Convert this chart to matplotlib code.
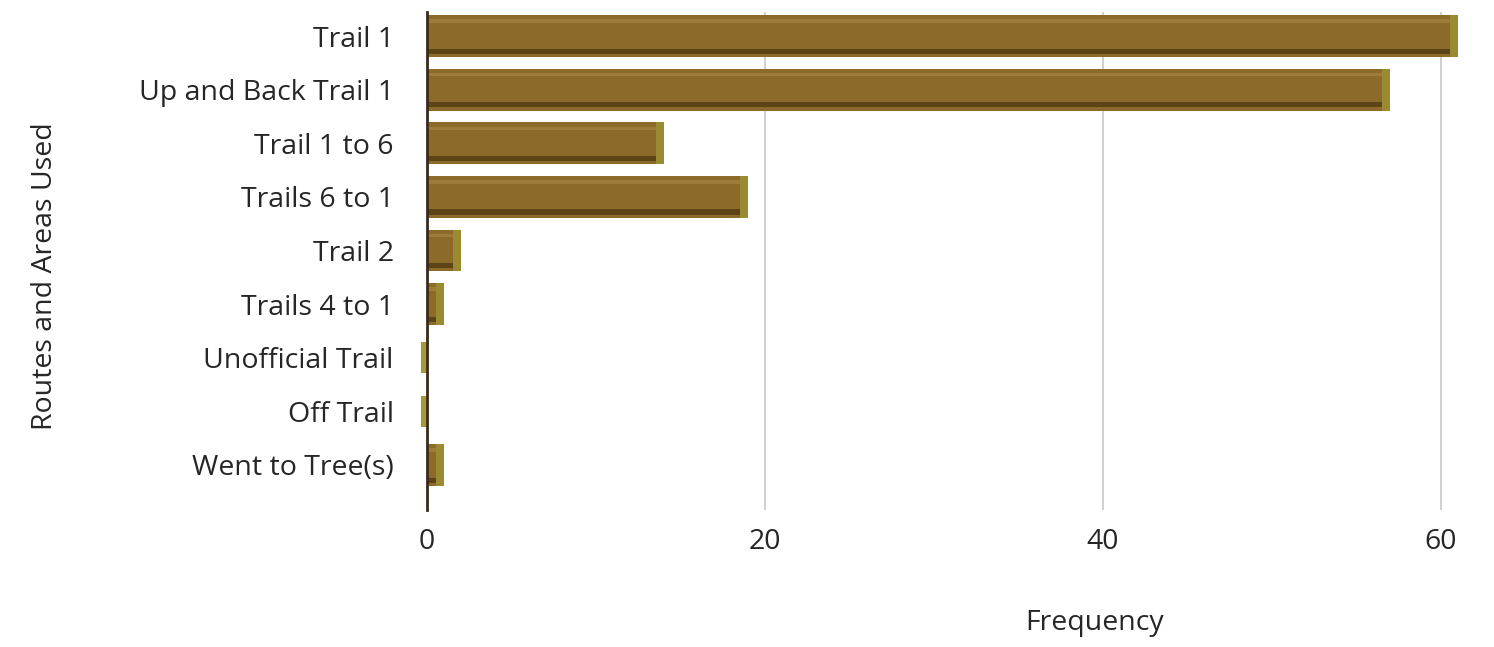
import matplotlib
matplotlib.use("Agg")
import matplotlib.pyplot as plt
import numpy as np

categories = ["Trail 1", "Up and Back Trail 1", "Trail 1 to 6", "Trails 6 to 1",
              "Trail 2", "Trails 4 to 1", "Unofficial Trail", "Off Trail", "Went to Tree(s)"]
frequency = [61, 57, 14, 19, 2, 1, 0, 0, 1]
x_ticks = [0, 20, 40, 60]

plt.rcParams['font.family'] = ['Open Sans', 'DejaVu Sans']

fig = plt.figure(figsize=(14.94, 6.47), dpi=100)
ax = fig.add_axes([427/1494, 1 - 510/647, (1466-427)/1494, (510-12)/647])

y = np.arange(len(categories))
vals = np.array(frequency, dtype=float)
h = 0.78

# main face
ax.barh(y, vals, height=h, color='#8C6A2A', zorder=3)
# darker lower strip (3D shading)
ax.barh(y + h*0.36, vals, height=h*0.12, color='#5C4416', zorder=4)
# lighter top strip
ax.barh(y - h*0.36, vals, height=h*0.08, color='#9C7C38', zorder=4)
# end caps
cap = np.where(vals > 0, 0.45, 0.0)
ax.barh(y, cap, left=vals - cap, height=h, color='#9A8A32', zorder=5)
# zero-valued slivers (drawn just left of the axis)
zero_mask = vals == 0
ax.barh(y[zero_mask], [0.35]*int(zero_mask.sum()), left=-0.35, height=h*0.75,
        color='#A89838', zorder=5, clip_on=False)

ax.set_xlim(0, 61.5)
ax.set_ylim(len(categories) - 1 + 0.84, -0.45)
ax.set_xticks(x_ticks)
ax.set_xticklabels([str(t) for t in x_ticks])
ax.set_yticks(y)
ax.set_yticklabels(categories)

ax.xaxis.grid(True, color='#c8c8c8', linewidth=1.2, zorder=0)
ax.set_axisbelow(True)
for s in ['top', 'right', 'bottom']:
    ax.spines[s].set_visible(False)
ax.spines['left'].set_color('#3a2a1a')
ax.spines['left'].set_linewidth(2)
ax.spines['left'].set_zorder(6)
ax.tick_params(axis='both', length=0, labelsize=20.5, colors='#262626')
ax.tick_params(axis='y', pad=24)
ax.tick_params(axis='x', pad=13)

fig.text(1095/1494, 1 - 623/647, "Frequency", ha='center', va='center', fontsize=20.5, color='#262626')
fig.text(45/1494, 1 - 276/647, "Routes and Areas Used", ha='center', va='center',
         rotation=90, fontsize=20.5, color='#262626')

fig.savefig("out.png", dpi=100, facecolor='white')
